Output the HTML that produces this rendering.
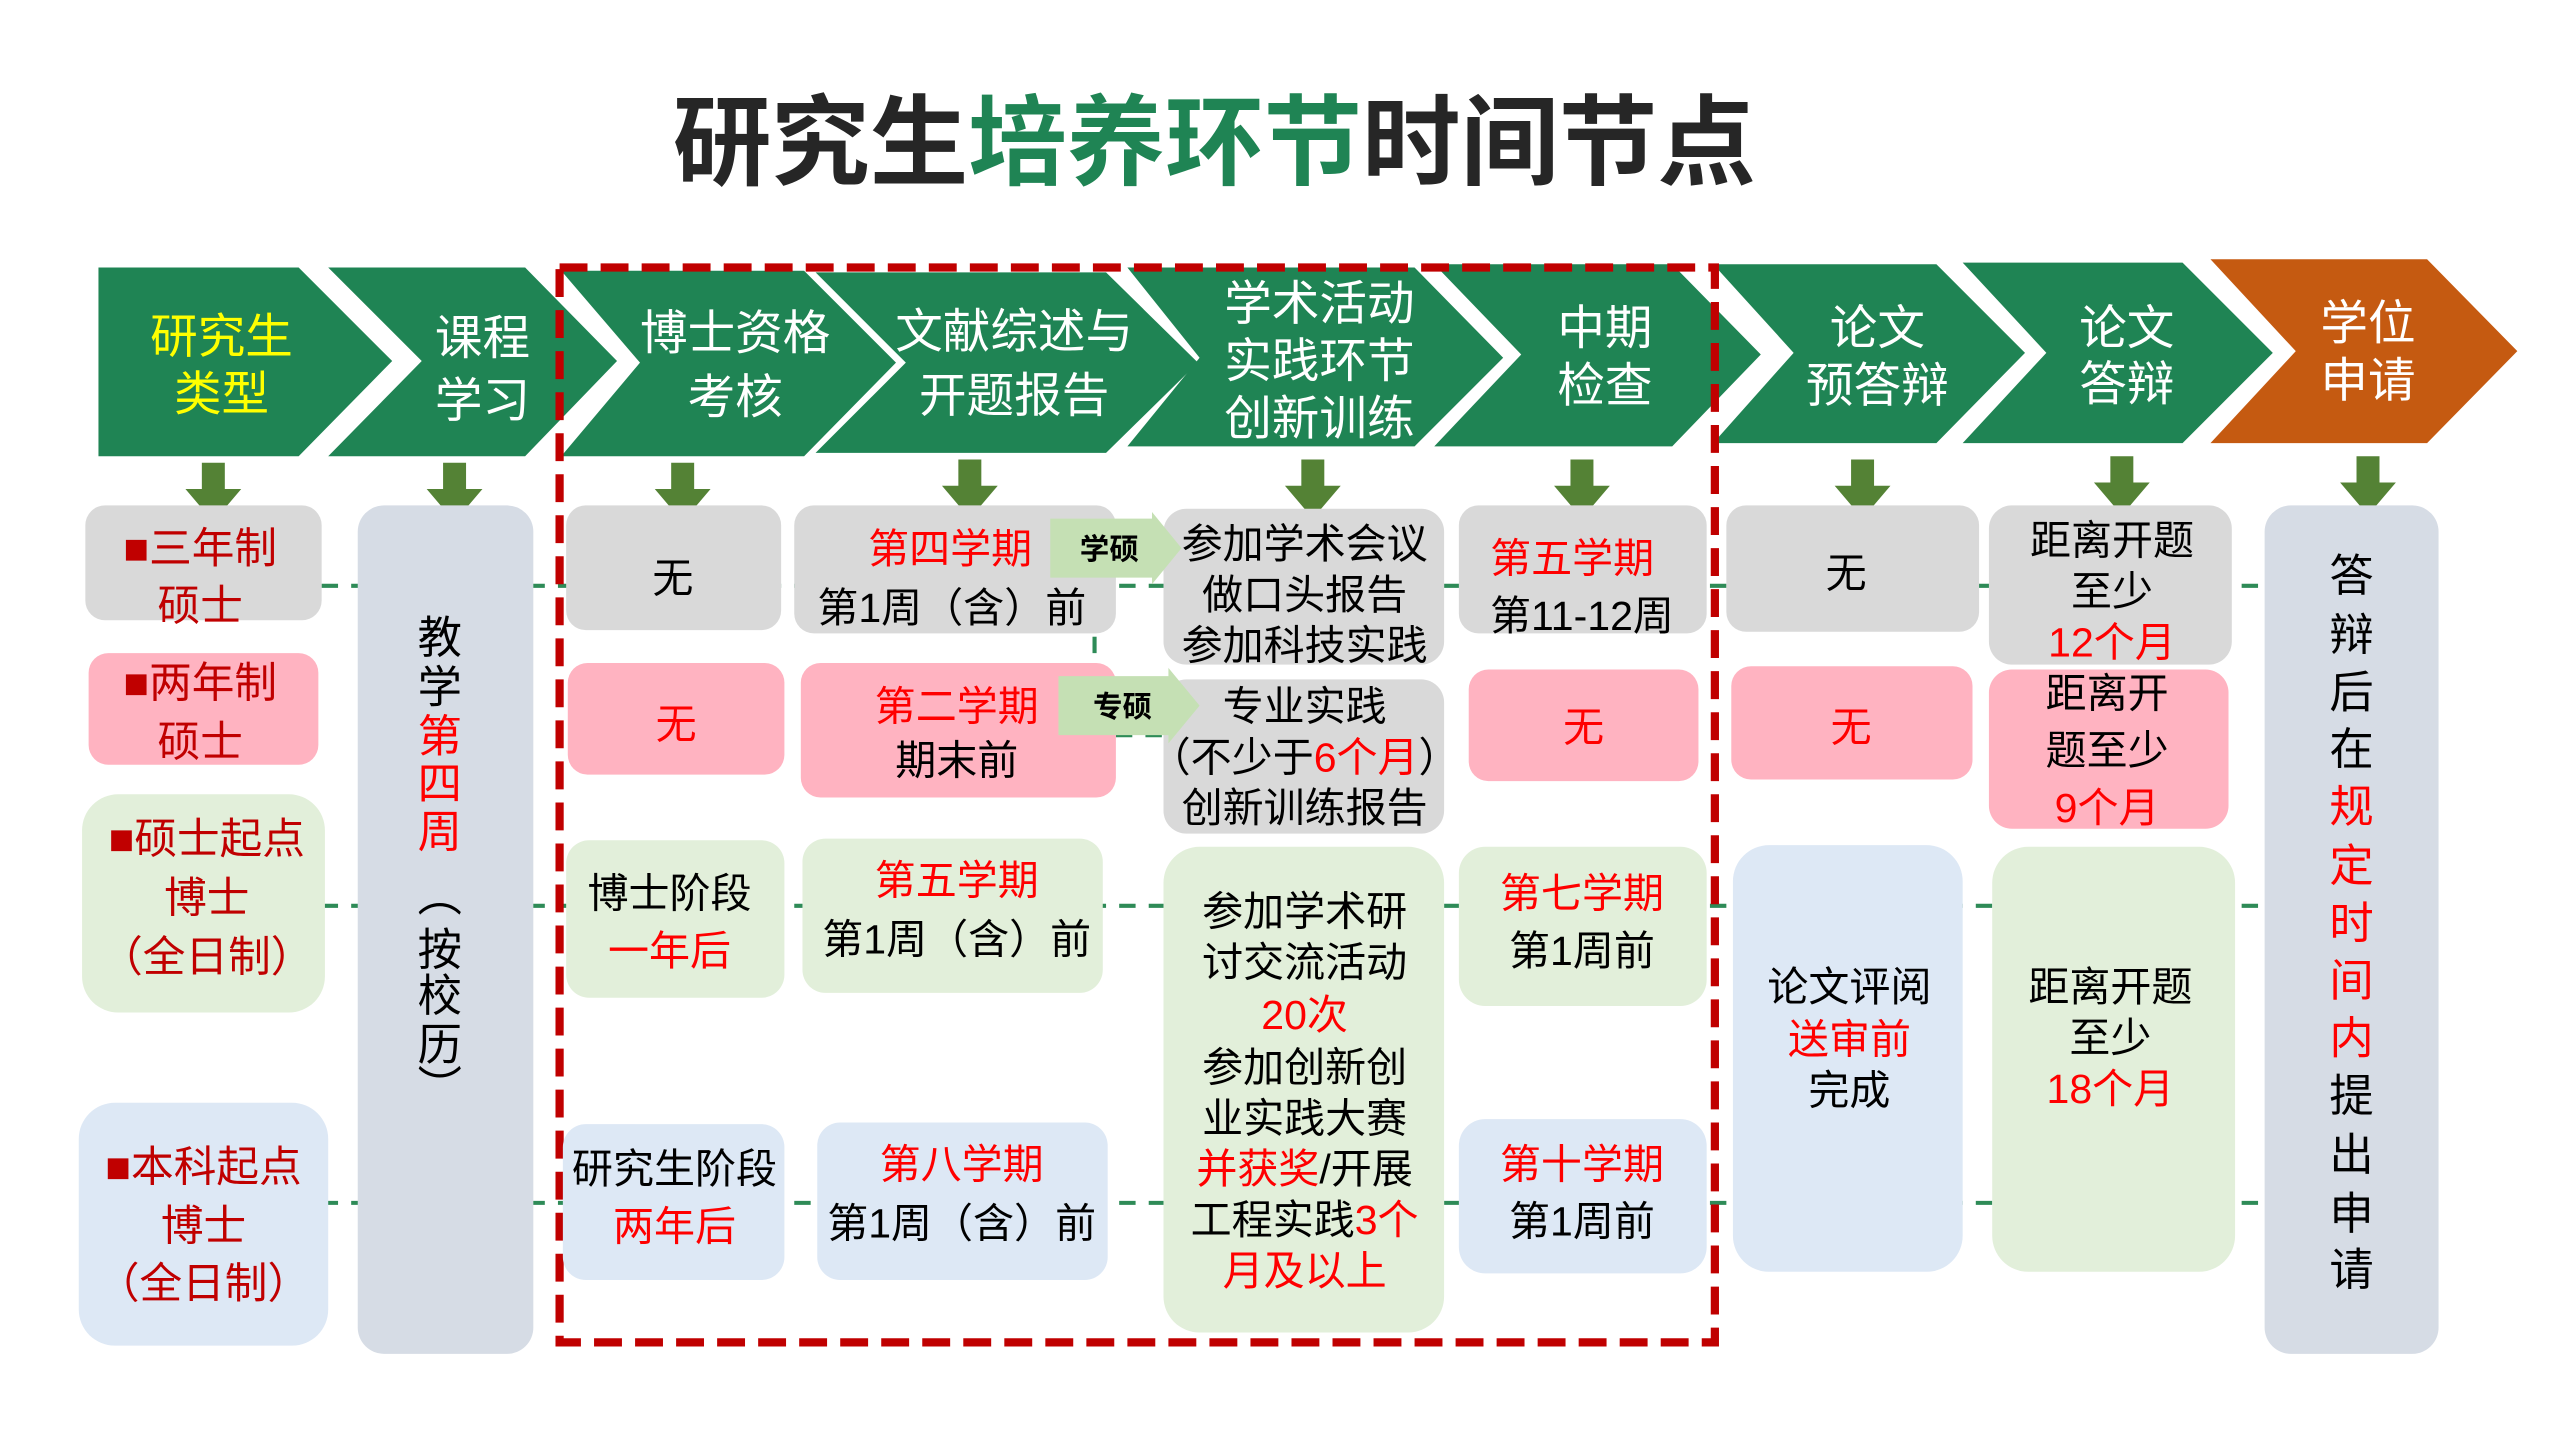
<!DOCTYPE html>
<html><head><meta charset="utf-8"><style>
html,body{margin:0;padding:0;background:#fff;}
svg{display:block;}
text{font-family:"Liberation Sans","Noto Sans CJK SC",sans-serif;}
.h{fill:#fff;font-size:29px;text-anchor:middle;}
.t{fill:#000;font-size:25px;text-anchor:middle;}
.r{fill:#ff0000;}
.dr{fill:#c00000;font-size:26px;text-anchor:middle;}
</style></head><body>
<svg width="2560" height="1440" viewBox="0 0 1560 877.5" xmlns="http://www.w3.org/2000/svg">
<rect width="1560" height="877.5" fill="#fff"/>
<!-- title -->
<text x="740" y="108" text-anchor="middle" font-size="60" font-weight="bold" fill="#262626">研究生<tspan fill="#1f8454">培养环节</tspan>时间节点</text>

<!-- connectors -->
<g stroke="#2e8b57" stroke-width="2.5" stroke-dasharray="10,8" fill="none">
<line x1="196" y1="357" x2="1380" y2="357"/>
<line x1="196" y1="552" x2="1380" y2="552"/>
<line x1="196" y1="733" x2="1380" y2="733"/>
<line x1="680" y1="448" x2="712" y2="448"/>
<line x1="667" y1="388" x2="667" y2="404"/>
</g>

<!-- chevrons -->
<g fill="#1f8454">
<polygon points="60,163 182,163 239,220 182,278 60,278"/>
<polygon points="200,163 320,163 376,220 320,278 200,278 257,220"/>
<polygon points="342,165 490,165 546,221 490,278 342,278 390,221"/>
<polygon points="497,166 674,166 730,221 674,276 497,276 552,221"/>
<polygon points="687,163 862,163 916,218 862,272 687,272 731,218"/>
<polygon points="874,161 1019,161 1073,216 1019,272 874,272 927,216"/>
<polygon points="1044,161 1180,161 1234,215 1180,270 1044,270 1093,215"/>
<polygon points="1196,160 1330,160 1385,215 1330,270 1196,270 1247,215"/>
</g>
<polygon fill="#c55a11" points="1347,158 1479,158 1534,214 1479,270 1347,270 1399,214"/>

<text class="h" x="135" y="215" fill="#ffff00" style="fill:#ffff00">研究生</text>
<text class="h" x="135" y="250" style="fill:#ffff00">类型</text>
<text class="h" x="294" y="216">课程</text><text class="h" x="294" y="254">学习</text>
<text class="h" x="448" y="213">博士资格</text><text class="h" x="448" y="252">考核</text>
<text class="h" x="618" y="212">文献综述与</text><text class="h" x="618" y="251">开题报告</text>
<text class="h" x="804" y="195">学术活动</text><text class="h" x="804" y="230">实践环节</text><text class="h" x="804" y="265">创新训练</text>
<text class="h" x="978" y="210">中期</text><text class="h" x="978" y="245">检查</text>
<text class="h" x="1144" y="210">论文</text><text class="h" x="1144" y="245">预答辩</text>
<text class="h" x="1296" y="210">论文</text><text class="h" x="1296" y="244">答辩</text>
<text class="h" x="1443" y="207">学位</text><text class="h" x="1443" y="242">申请</text>

<!-- red dashed frame -->
<rect x="341" y="163" width="704" height="655" fill="none" stroke="#c00000" stroke-width="5" stroke-dasharray="17,8"/>

<!-- arrows -->
<g fill="#548235">
<polygon points="123,282 137,282 137,298 147,298 130,318 113,298 123,298"/>
<polygon points="270,282 284,282 284,298 294,298 277,318 260,298 270,298"/>
<polygon points="409,282 423,282 423,298 433,298 416,318 399,298 409,298"/>
<polygon points="584,280 598,280 598,296 608,296 591,316 574,296 584,296"/>
<polygon points="793,280 807,280 807,296 817,296 800,316 783,296 793,296"/>
<polygon points="957,280 971,280 971,296 981,296 964,316 947,296 957,296"/>
<polygon points="1128,280 1142,280 1142,296 1152,296 1135,316 1118,296 1128,296"/>
<polygon points="1286,278 1300,278 1300,294 1310,294 1293,314 1276,294 1286,294"/>
<polygon points="1436,278 1450,278 1450,294 1460,294 1443,314 1426,294 1436,294"/>
</g>

<!-- boxes -->
<g>
<rect x="52" y="308" width="144" height="70" rx="12" fill="#d9d9d9"/>
<rect x="54" y="398" width="140" height="68" rx="12" fill="#ffb3c1"/>
<rect x="50" y="484" width="148" height="133" rx="22" fill="#e2efda"/>
<rect x="48" y="672" width="152" height="148" rx="22" fill="#dde8f5"/>
<rect x="218" y="308" width="107" height="517" rx="16" fill="#d6dce5"/>

<rect x="345" y="308" width="131" height="76" rx="12" fill="#d9d9d9"/>
<rect x="346" y="404" width="132" height="68" rx="12" fill="#ffb3c1"/>
<rect x="345" y="512" width="133" height="96" rx="14" fill="#e2efda"/>
<rect x="343" y="685" width="135" height="95" rx="14" fill="#dde8f5"/>

<rect x="484" y="308" width="196" height="78" rx="12" fill="#d9d9d9"/>
<rect x="488" y="404" width="192" height="82" rx="12" fill="#ffb3c1"/>
<rect x="489" y="511" width="183" height="94" rx="14" fill="#e2efda"/>
<rect x="498" y="684" width="177" height="96" rx="14" fill="#dde8f5"/>

<rect x="709" y="310" width="171" height="95" rx="14" fill="#d9d9d9"/>
<rect x="709" y="414" width="171" height="94" rx="14" fill="#d9d9d9"/>
<rect x="709" y="516" width="171" height="296" rx="22" fill="#e2efda"/>

<rect x="889" y="308" width="151" height="78" rx="12" fill="#d9d9d9"/>
<rect x="895" y="408" width="140" height="68" rx="12" fill="#ffb3c1"/>
<rect x="889" y="516" width="151" height="97" rx="16" fill="#e2efda"/>
<rect x="889" y="682" width="151" height="94" rx="16" fill="#dde8f5"/>

<rect x="1052" y="308" width="154" height="77" rx="12" fill="#d9d9d9"/>
<rect x="1055" y="406" width="147" height="69" rx="12" fill="#ffb3c1"/>
<rect x="1056" y="515" width="140" height="260" rx="22" fill="#dde8f5"/>

<rect x="1212" y="308" width="148" height="97" rx="14" fill="#d9d9d9"/>
<rect x="1212" y="408" width="146" height="97" rx="14" fill="#ffb3c1"/>
<rect x="1214" y="516" width="148" height="259" rx="22" fill="#e2efda"/>

<rect x="1380" y="308" width="106" height="517" rx="16" fill="#d6dce5"/>
</g>

<!-- tags -->
<polygon fill="#c5e0b4" points="640,316 702,316 702,312 720,334 702,356 702,352 640,352"/>
<text x="676" y="341" font-size="18" text-anchor="middle" font-weight="bold" fill="#000">学硕</text>
<polygon fill="#c5e0b4" points="645,412 712,412 712,407 731,430 712,453 712,448 645,448"/>
<text x="684" y="437" font-size="18" text-anchor="middle" font-weight="bold" fill="#000">专硕</text>

<!-- col1 -->
<text class="dr" x="122" y="343">■三年制</text><text class="dr" x="122" y="378">硕士</text>
<text class="dr" x="122" y="425">■两年制</text><text class="dr" x="122" y="461">硕士</text>
<text class="dr" x="126" y="520">■硕士起点</text><text class="dr" x="126" y="556">博士</text><text class="dr" x="126" y="592">（全日制）</text>
<text class="dr" x="124" y="720">■本科起点</text><text class="dr" x="124" y="756">博士</text><text class="dr" x="124" y="791">（全日制）</text>

<!-- col2 vertical -->
<g font-size="27" text-anchor="middle">
<text x="268" y="398">教</text><text x="268" y="428">学</text>
<text x="268" y="458" fill="#ff0000">第</text><text x="268" y="487" fill="#ff0000">四</text><text x="268" y="516" fill="#ff0000">周</text>
<text x="268" y="555">︵</text><text x="268" y="588">按</text><text x="268" y="616">校</text><text x="268" y="646">历</text><text x="268" y="672">︶</text>
</g>

<!-- col3 -->
<text class="t" x="410" y="361">无</text>
<text class="t r" x="412" y="450">无</text>
<text class="t" x="408" y="553">博士阶段</text><text class="t r" x="408" y="588">一年后</text>
<text class="t" x="411" y="721">研究生阶段</text><text class="t r" x="411" y="756">两年后</text>

<!-- col4 -->
<text class="t r" x="579" y="343">第四学期</text><text class="t" x="580" y="379">第1周（含）前</text>
<text class="t r" x="583" y="439">第二学期</text><text class="t" x="583" y="472">期末前</text>
<text class="t r" x="583" y="545">第五学期</text><text class="t" x="583" y="581">第1周（含）前</text>
<text class="t r" x="586" y="718">第八学期</text><text class="t" x="586" y="754">第1周（含）前</text>

<!-- col5 -->
<text class="t" x="795" y="340">参加学术会议</text><text class="t" x="795" y="371">做口头报告</text><text class="t" x="795" y="402">参加科技实践</text>
<text class="t" x="795" y="439">专业实践</text><text class="t" x="795" y="470">（不少于<tspan fill="#ff0000">6个月</tspan>）</text><text class="t" x="795" y="501">创新训练报告</text>
<text class="t" x="795" y="564">参加学术研</text>
<text class="t" x="795" y="595">讨交流活动</text>
<text class="t r" x="795" y="627">20次</text>
<text class="t" x="795" y="659">参加创新创</text>
<text class="t" x="795" y="690">业实践大赛</text>
<text class="t" x="795" y="721"><tspan fill="#ff0000">并获奖</tspan>/开展</text>
<text class="t" x="795" y="752">工程实践<tspan fill="#ff0000">3个</tspan></text>
<text class="t r" x="795" y="783">月及以上</text>

<!-- col6 -->
<text class="t r" x="958" y="349">第五学期</text><text class="t" x="964" y="384">第11-12周</text>
<text class="t r" x="965" y="452">无</text>
<text class="t r" x="964" y="553">第七学期</text><text class="t" x="964" y="588">第1周前</text>
<text class="t r" x="964" y="718">第十学期</text><text class="t" x="964" y="753">第1周前</text>

<!-- col7 -->
<text class="t" x="1125" y="358">无</text>
<text class="t r" x="1128" y="452">无</text>
<text class="t" x="1127" y="610">论文评阅</text><text class="t r" x="1127" y="642">送审前</text><text class="t" x="1127" y="673">完成</text>

<!-- col8 -->
<text class="t" x="1287" y="338">距离开题</text><text class="t" x="1287" y="369">至少</text><text class="t r" x="1287" y="400">12个月</text>
<text class="t" x="1284" y="431">距离开</text><text class="t" x="1284" y="466">题至少</text><text class="t r" x="1284" y="501">9个月</text>
<text class="t" x="1286" y="610">距离开题</text><text class="t" x="1286" y="641">至少</text><text class="t r" x="1286" y="672">18个月</text>

<!-- col9 vertical -->
<g font-size="27" text-anchor="middle">
<text x="1433" y="360">答</text><text x="1433" y="396">辩</text><text x="1433" y="431">后</text><text x="1433" y="466">在</text>
<text x="1433" y="501" fill="#ff0000">规</text><text x="1433" y="537" fill="#ff0000">定</text><text x="1433" y="572" fill="#ff0000">时</text><text x="1433" y="607" fill="#ff0000">间</text><text x="1433" y="642" fill="#ff0000">内</text>
<text x="1433" y="677">提</text><text x="1433" y="713">出</text><text x="1433" y="749">申</text><text x="1433" y="783">请</text>
</g>
</svg>
</body></html>
